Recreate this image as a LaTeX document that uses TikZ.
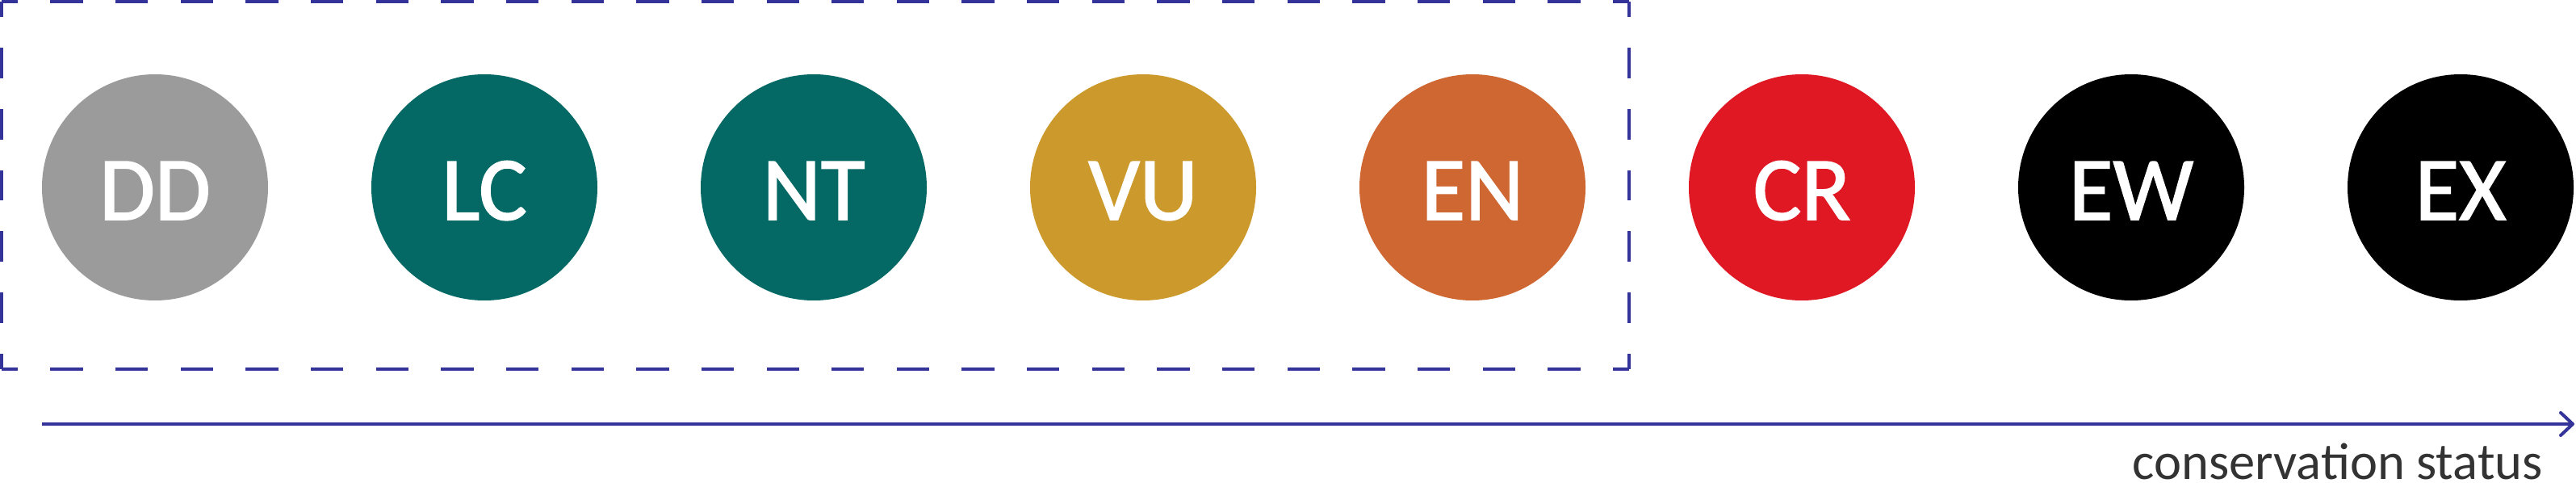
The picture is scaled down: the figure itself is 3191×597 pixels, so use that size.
\documentclass[tikz,border=0pt]{standalone}
\usepackage{fontspec}
\setmainfont{Carlito}
\newfontfamily\circfont[FakeBold=1.5]{Carlito}
\usetikzlibrary{arrows.meta}
\definecolor{frameblue}{HTML}{333399}
\definecolor{ddgray}{HTML}{9B9B9B}
\definecolor{tealc}{HTML}{046965}
\definecolor{vugold}{HTML}{CC9A2C}
\definecolor{enorange}{HTML}{CE6732}
\definecolor{crred}{HTML}{DF1824}
\definecolor{txtgray}{HTML}{333333}
\tikzset{
  status/.style={circle, minimum size=280pt, inner sep=0pt, text=white,
    font=\circfont\fontsize{112}{112}\selectfont, text height=80pt, text depth=0pt},
  hdash/.style={frameblue, line width=4pt, dash pattern=on 40.32pt off 40.32pt, dash phase=20.16pt},
  vdash/.style={frameblue, line width=4pt, dash pattern=on 37.92pt off 37.92pt, dash phase=18.96pt},
  axis/.style={frameblue, line width=4pt, -{Straight Barb[length=15pt,width=28pt,line cap=round,line join=round]}}
}
\begin{document}
\begin{tikzpicture}[x=1pt,y=-1pt]
\useasboundingbox (0,0) rectangle (3191,597);
% status circles
\node[status, fill=ddgray]   (DD) at (192,232)  {DD};
\node[status, fill=tealc]    (LC) at (600,232)  {LC};
\node[status, fill=tealc]    (NT) at (1008,232) {NT};
\node[status, fill=vugold]   (VU) at (1416,232) {VU};
\node[status, fill=enorange] (EN) at (1824,232) {EN};
\node[status, fill=crred]    (CR) at (2232,232) {CR};
\node[status, fill=black]    (EW) at (2640,232) {EW};
\node[status, fill=black]    (EX) at (3048,232) {EX};
% dashed frame
\coordinate (f1) at (2,2);
\coordinate (f2) at (2018,2);
\coordinate (f3) at (2018,457);
\coordinate (f4) at (2,457);
\draw[hdash] (f1) -- (f2);
\draw[vdash] (f2) -- (f3);
\draw[hdash] (f3) -- (f4);
\draw[vdash] (f4) -- (f1);
% axis
\coordinate (a0) at (52,525);
\coordinate (a1) at (3189,525);
\draw[axis] (a0) -- (a1);
\node[anchor=base east, inner sep=0pt, text=txtgray, font=\fontsize{64.5}{64.5}\selectfont] (lbl) at (3150,593) {conservation status};
\end{tikzpicture}
\end{document}
